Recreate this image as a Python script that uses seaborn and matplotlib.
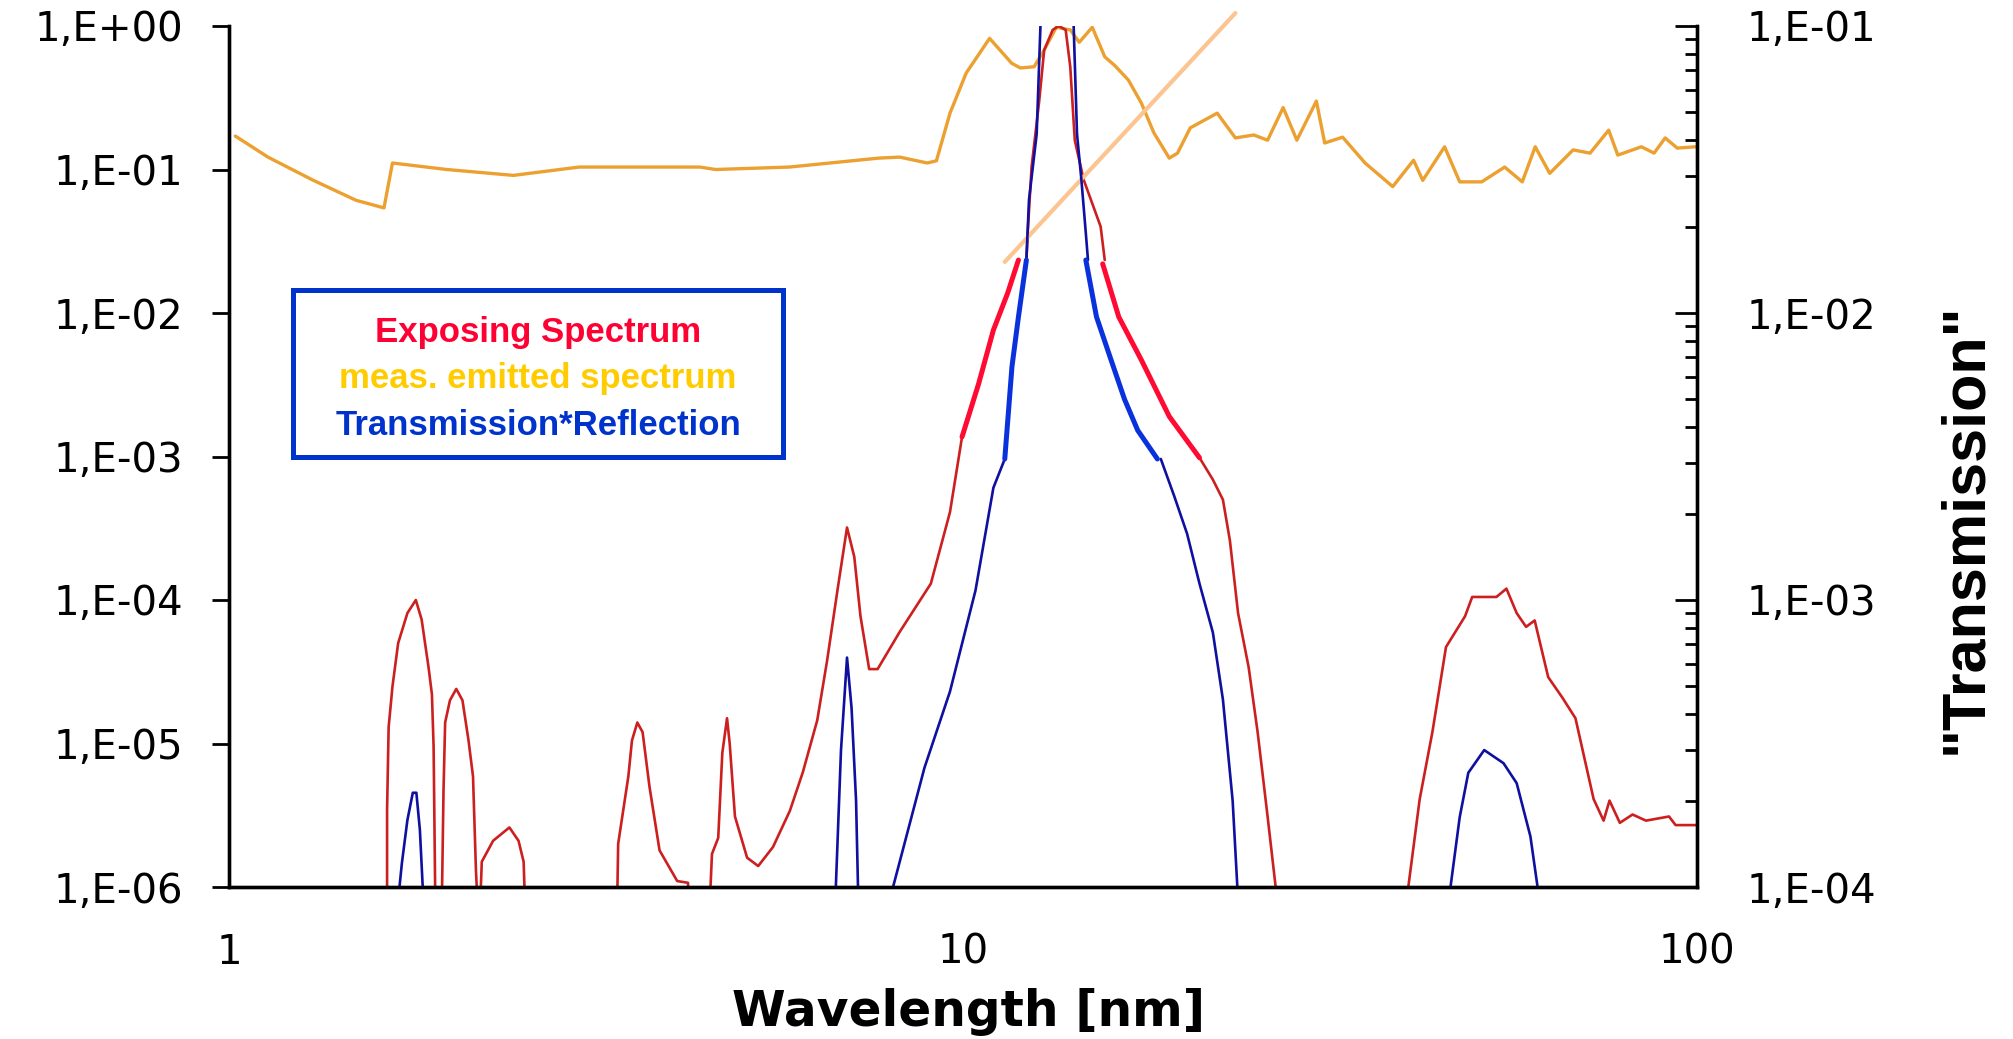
"""
EUV exposing spectrum vs. measured emitted spectrum and transmission*reflection.
Log-log plot with a second (right) axis for the transmission.
"""

import numpy as np
import pandas as pd
import matplotlib
matplotlib.use('Agg')
import matplotlib.pyplot as plt
from matplotlib.patches import Rectangle
from matplotlib.ticker import FixedLocator, FuncFormatter, LogLocator, NullLocator
import seaborn as sns

# ---------------------------------------------------------------------------
# Data (wavelength in nm)
# ---------------------------------------------------------------------------

# measured emitted spectrum (left axis)
emitted_wl = [1.02, 1.13, 1.30, 1.49, 1.626, 1.67, 1.98, 2.44, 3.0, 4.38, 4.6, 5.8,
              7.67, 8.2, 8.94, 9.2, 9.6, 10.1, 10.87, 11.65, 11.97, 12.5, 12.9,
              13.4, 14.0, 14.4, 15.0, 15.6, 16.1, 16.8, 17.5, 18.2, 19.1, 19.6,
              20.4, 22.2, 23.5, 24.9, 26.0, 27.3, 28.5, 30.3, 31.1, 32.9, 35.3,
              38.5, 41.1, 42.3, 45.3, 47.5, 50.9, 54.7, 57.8, 60.2, 63.0, 67.8,
              71.5, 75.8, 78.0, 84.0, 87.4, 90.5, 94.0, 99.6]
emitted_val = [0.171, 0.122, 0.0845, 0.061, 0.054, 0.111, 0.100, 0.091, 0.104, 0.104,
               0.100, 0.104, 0.120, 0.122, 0.111, 0.115, 0.247, 0.47, 0.82, 0.55,
               0.51, 0.52, 0.68, 0.98, 0.94, 0.77, 0.98, 0.61, 0.53, 0.42, 0.29,
               0.18, 0.12, 0.13, 0.195, 0.247, 0.166, 0.174, 0.16, 0.27, 0.16,
               0.30, 0.153, 0.168, 0.111, 0.076, 0.116, 0.084, 0.144, 0.082, 0.082,
               0.104, 0.082, 0.144, 0.094, 0.137, 0.13, 0.188, 0.126, 0.144, 0.13,
               0.166, 0.141, 0.144]

# exposing spectrum (left axis), three pieces around the hand-drawn patch
expo_low_wl = [1.642, 1.642, 1.65, 1.67, 1.70, 1.75, 1.797, 1.83, 1.87, 1.89, 1.90,
               1.91, 1.95, 1.96, 1.97, 2.00, 2.04, 2.08, 2.12, 2.15, 2.17, 2.18,
               2.20, 2.21, 2.29, 2.41, 2.48, 2.52, 2.53, 3.38, 3.39, 3.50, 3.54,
               3.60, 3.66, 3.74, 3.86, 4.08, 4.22, 4.23, 4.52, 4.55, 4.64, 4.70,
               4.77, 4.81, 4.89, 5.08, 5.26, 5.51, 5.81, 6.05, 6.33, 6.53, 6.75,
               6.95, 7.11, 7.25, 7.45, 7.65, 8.2, 9.04, 9.6, 9.97]
expo_low_val = [8e-7, 3.45e-6, 1.3e-5, 2.5e-5, 5.0e-5, 8.1e-5, 1.0e-4, 7.3e-5, 3.4e-5,
                2.2e-5, 9.5e-6, 8e-7, 8e-7, 4.7e-6, 1.4e-5, 2.0e-5, 2.4e-5, 2.0e-5,
                1.05e-5, 5.9e-6, 1.3e-6, 8e-7, 8e-7, 1.5e-6, 2.1e-6, 2.6e-6, 2.1e-6,
                1.5e-6, 8e-7, 8e-7, 2.0e-6, 5.9e-6, 1.05e-5, 1.4e-5, 1.2e-5, 5.0e-6,
                1.8e-6, 1.1e-6, 1.07e-6, 8e-7, 8e-7, 1.7e-6, 2.2e-6, 8.6e-6, 1.5e-5,
                1.0e-5, 3.1e-6, 1.6e-6, 1.4e-6, 1.9e-6, 3.4e-6, 6.3e-6, 1.45e-5,
                3.8e-5, 1.2e-4, 3.2e-4, 2.0e-4, 7.7e-5, 3.3e-5, 3.3e-5, 6.0e-5,
                1.3e-4, 4.1e-4, 1.37e-3]
expo_peak_wl = [12.2, 12.25, 12.4, 12.7, 12.9, 13.25, 13.5, 13.8, 14.0, 14.2, 14.6,
                15.0, 15.4, 15.6]
expo_peak_val = [0.0234, 0.036, 0.104, 0.30, 0.68, 0.94, 1.0, 0.94, 0.52, 0.16,
                 0.085, 0.058, 0.040, 0.0234]
expo_high_wl = [21.0, 21.9, 22.6, 23.1, 23.7, 24.5, 25.2, 26.0, 26.8, 40.2, 41.9,
                43.6, 44.5, 45.5, 48.3, 49.4, 53.3, 55.0, 56.8, 58.5, 60.1, 62.7,
                65.5, 68.3, 72.3, 74.6, 76.0, 78.5, 81.7, 85.2, 91.6, 93.5, 100.0]
expo_high_val = [9.8e-4, 6.9e-4, 5.0e-4, 2.6e-4, 8.1e-5, 3.4e-5, 1.2e-5, 3.1e-6, 8e-7,
                 8e-7, 4.1e-6, 1.2e-5, 2.3e-5, 4.7e-5, 7.7e-5, 1.05e-4, 1.05e-4,
                 1.2e-4, 8.1e-5, 6.5e-5, 7.2e-5, 2.9e-5, 2.1e-5, 1.5e-5, 4.1e-6,
                 2.9e-6, 4.0e-6, 2.8e-6, 3.2e-6, 2.9e-6, 3.1e-6, 2.7e-6, 2.7e-6]

# hand-drawn bright red flanks (left axis)
expo_patch_left_wl = [9.97, 10.5, 11.0, 11.5, 11.9]
expo_patch_left_val = [1.37e-3, 3.2e-3, 7.6e-3, 1.37e-2, 2.34e-2]
expo_patch_right_wl = [15.5, 16.3, 17.5, 19.1, 21.0]
expo_patch_right_val = [0.022, 9.4e-3, 4.7e-3, 1.9e-3, 9.8e-4]

# transmission*reflection (right axis)
trans_low_wl = [1.70, 1.72, 1.75, 1.78, 1.80, 1.82, 1.84, 6.70, 6.82, 6.95, 7.05,
                7.15, 7.20, 8.03, 8.86, 9.6, 10.4, 11.0, 11.4]
trans_low_val = [9e-5, 1.21e-4, 1.71e-4, 2.13e-4, 2.13e-4, 1.58e-4, 9e-5, 9e-5,
                 3.0e-4, 6.3e-4, 4.2e-4, 2.0e-4, 9e-5, 1.0e-4, 2.6e-4, 4.8e-4,
                 1.08e-3, 2.46e-3, 3.1e-3]
trans_peak_wl = [12.2, 12.3, 12.6, 12.75, 13.45, 14.15, 14.3, 14.5, 14.7, 14.8]
trans_peak_val = [0.0153, 0.0248, 0.042, 0.1, 0.6, 0.1, 0.042, 0.029, 0.019, 0.0153]
trans_high_wl = [18.6, 19.4, 20.2, 21.0, 21.9, 22.6, 23.3, 23.7, 45.9, 47.5, 48.8,
                 51.3, 54.5, 56.8, 59.3, 61.0]
trans_high_val = [3.1e-3, 2.3e-3, 1.7e-3, 1.14e-3, 7.7e-4, 4.5e-4, 2.0e-4, 9e-5,
                  9e-5, 1.75e-4, 2.5e-4, 3.0e-4, 2.7e-4, 2.3e-4, 1.5e-4, 9e-5]

# hand-drawn bright blue flanks (right axis)
trans_patch_left_wl = [11.4, 11.66, 11.9, 12.2]
trans_patch_left_val = [3.1e-3, 6.5e-3, 9.7e-3, 0.0153]
trans_patch_right_wl = [14.7, 15.2, 15.9, 16.6, 17.3, 18.4]
trans_patch_right_val = [0.0153, 9.7e-3, 6.9e-3, 5.0e-3, 3.9e-3, 3.1e-3]

# straight guide line (left axis)
guide_wl = [11.4, 23.5]
guide_val = [0.0227, 1.23]

legend_labels = ['Exposing Spectrum', 'meas. emitted spectrum', 'Transmission*Reflection']
legend_colors = ['#FF0033', '#FFCC00', '#0033CC']

left_ticks = [1e-6, 1e-5, 1e-4, 1e-3, 1e-2, 1e-1, 1e0]
right_ticks = [1e-4, 1e-3, 1e-2, 1e-1]
x_ticks = [1, 10, 100]


def segments(*pieces):
    """Stack (wl, val) pieces into one frame, one unit per piece."""
    frames = []
    for i, (wl, val) in enumerate(pieces):
        frames.append(pd.DataFrame({'wl': wl, 'val': val, 'seg': i}))
    return pd.concat(frames, ignore_index=True)


def sci_label(v, pos=None):
    return f"1,E{int(round(np.log10(v))):+03d}"


W, H = 2013, 1039
sns.set_style('white')
plt.rcParams['font.family'] = ['DejaVu Sans']
plt.rcParams['text.color'] = 'black'
plt.rcParams['axes.labelcolor'] = 'black'
plt.rcParams['xtick.color'] = 'black'
plt.rcParams['ytick.color'] = 'black'

fig = plt.figure(figsize=(W / 100, H / 100), dpi=100)
ax = fig.add_axes([229 / W, 1 - 887 / H, (1697 - 229) / W, (887 - 26) / H])
ax2 = ax.twinx()

# left axis curves
sns.lineplot(data=pd.DataFrame({'wl': emitted_wl, 'val': emitted_val}), x='wl', y='val',
             ax=ax, color='#ECA030', linewidth=2.4, sort=False, estimator=None)
sns.lineplot(data=segments((expo_low_wl, expo_low_val), (expo_peak_wl, expo_peak_val),
                           (expo_high_wl, expo_high_val)),
             x='wl', y='val', units='seg', estimator=None, sort=False,
             ax=ax, color='#CC1F1F', linewidth=1.9)
sns.lineplot(data=segments((expo_patch_left_wl, expo_patch_left_val),
                           (expo_patch_right_wl, expo_patch_right_val)),
             x='wl', y='val', units='seg', estimator=None, sort=False,
             ax=ax, color='#FF0A32', linewidth=3.6)

# right axis curves
sns.lineplot(data=segments((trans_low_wl, trans_low_val), (trans_peak_wl, trans_peak_val),
                           (trans_high_wl, trans_high_val)),
             x='wl', y='val', units='seg', estimator=None, sort=False,
             ax=ax2, color='#0F0FA0', linewidth=1.9)
sns.lineplot(data=segments((trans_patch_left_wl, trans_patch_left_val),
                           (trans_patch_right_wl, trans_patch_right_val)),
             x='wl', y='val', units='seg', estimator=None, sort=False,
             ax=ax2, color='#0A32DC', linewidth=3.6)

# guide line, allowed to run past the top
ax.plot(guide_wl, guide_val, color='#FBC490', linewidth=3.0, clip_on=False, zorder=5)

# scales and limits
ax.set_xscale('log')
ax.set_yscale('log')
ax2.set_yscale('log')
ax.set_xlim(1, 100)
ax.set_ylim(1e-6, 1)
ax2.set_ylim(1e-4, 1e-1)
ax.set_xlabel('')
ax.set_ylabel('')
ax2.set_ylabel('')

# ticks
ax.xaxis.set_major_locator(FixedLocator(x_ticks))
ax.xaxis.set_minor_locator(LogLocator(base=10, subs=np.arange(2, 10)))
ax.xaxis.set_major_formatter(FuncFormatter(lambda v, p: f"{v:g}"))
ax.xaxis.set_minor_formatter(FuncFormatter(lambda v, p: ''))
ax.yaxis.set_major_locator(FixedLocator(left_ticks))
ax.yaxis.set_minor_locator(NullLocator())
ax.yaxis.set_major_formatter(FuncFormatter(sci_label))
ax2.yaxis.set_major_locator(FixedLocator(right_ticks))
ax2.yaxis.set_minor_locator(LogLocator(base=10, subs=np.arange(2, 10)))
ax2.yaxis.set_major_formatter(FuncFormatter(sci_label))
ax2.yaxis.set_minor_formatter(FuncFormatter(lambda v, p: ''))

ax.tick_params(axis='x', which='major', direction='in', length=7, width=2,
               labelsize=29, pad=33, colors='black')
ax.tick_params(axis='x', which='minor', direction='in', length=5, width=2)
ax.tick_params(axis='y', which='major', direction='out', length=12, width=2,
               labelsize=29, pad=21, colors='black')
ax2.tick_params(axis='y', which='major', direction='in', length=16, width=2,
                labelsize=29, pad=36, colors='black')
ax2.tick_params(axis='y', which='minor', direction='in', length=9, width=2)

for a in (ax, ax2):
    for side in ('left', 'bottom', 'right'):
        a.spines[side].set_visible(True)
        a.spines[side].set_color('black')
        a.spines[side].set_linewidth(2.4)
    a.spines['top'].set_visible(False)
    a.grid(False)
ax.patch.set_visible(False)

# axis titles
fig.text(968 / W, 1 - 1012 / H, 'Wavelength [nm]', ha='center', va='center',
         fontsize=35, fontweight='bold', color='black', family=['DejaVu Sans'])
fig.text(1966 / W, 1 - 528 / H, '"Transmission"', ha='center', va='center',
         rotation=90, fontsize=44, fontweight='bold', color='black',
         family=['Liberation Sans'])

# hand-made legend box
fig.patches.append(Rectangle((293 / W, 1 - 457 / H), (783 - 293) / W, (457 - 290) / H,
                             transform=fig.transFigure, fill=False,
                             edgecolor='#0033CC', linewidth=3.6, zorder=6))
for label, color, base in zip(legend_labels, legend_colors, [342, 388, 435]):
    fig.text(538 / W, 1 - base / H, label, ha='center', va='baseline', color=color,
             fontsize=25, fontweight='bold', family=['Liberation Sans'])

fig.savefig('out.png', dpi=100)
print("Saved: out.png")
